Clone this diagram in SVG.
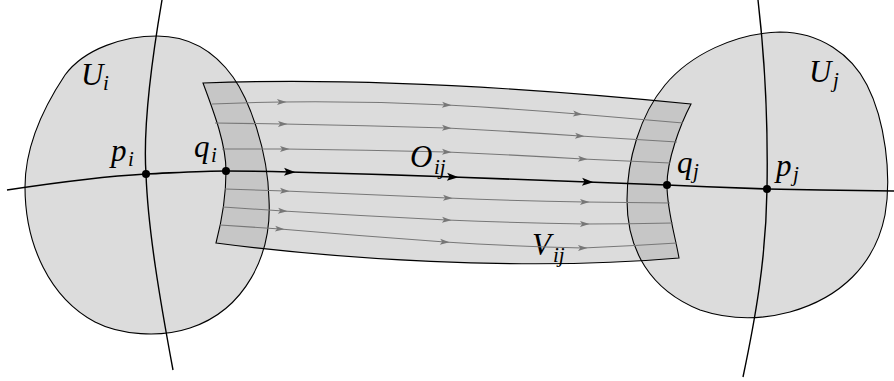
<svg xmlns="http://www.w3.org/2000/svg" width="894" height="381" viewBox="0 0 894 381">
<style>
.region{fill:#dcdcdc;stroke:none}
.overlap{fill:#c6c6c6;stroke:none}
.outline{fill:none;stroke:#000;stroke-width:1.1}
.flow{fill:none;stroke:#777;stroke-width:1.1;marker-mid:url(#arrG)}
.orbit{fill:none;stroke:#000;stroke-width:1.6}
.orbitA{fill:none;stroke:#000;stroke-width:1.6;marker-mid:url(#arrB)}
.transv{fill:none;stroke:#000;stroke-width:1.4}
.dot{fill:#000}
.lbl{font-family:"Liberation Serif","DejaVu Serif",serif;font-style:italic;font-size:31px;fill:#000}
.sub{font-size:21px}
</style>
<defs>
<marker id="arrG" markerUnits="userSpaceOnUse" markerWidth="12" markerHeight="8" viewBox="-6 -4 12 8" refX="0" refY="0" orient="auto" overflow="visible">
<path d="M4.5,0 L-5,-3 L-2.8,0 L-5,3 Z" fill="#777"/>
</marker>
<marker id="arrB" markerUnits="userSpaceOnUse" markerWidth="14" markerHeight="10" viewBox="-7 -5 14 10" refX="0" refY="0" orient="auto" overflow="visible">
<path d="M5.5,0 L-6,-4 L-3.5,0 L-6,4 Z" fill="#000"/>
</marker>
<path id="pUi" d="M157,36 C190,36 215,52 233,77 C249,99.5 268,150 269,200 C272,255 245,310 190,328 C160,338 120,335 95,322 C50,298 25,245 25,187 C25,145 45,105 65,75 C85,48 125,36 157,36 Z"/>
<path id="pUj" d="M780,32 C735,33 690,55 665,85 C640,115 627,160 627,200 C627,250 650,290 700,310 C730,320 760,320 790,312 C840,298 875,265 885,215 C892,175 885,120 867,85 C852,55 820,32 780,32 Z"/>
<path id="pV" d="M203,83 C330,78 500,85 691,104 C680,125 667,160 667,185 C667,210 675,235 679,258 C520,272 330,258 216,243 C222,220 226,195 226,171 C226,145 215,115 203,83 Z"/>
<clipPath id="cUi"><path d="M157,36 C190,36 215,52 233,77 C249,99.5 268,150 269,200 C272,255 245,310 190,328 C160,338 120,335 95,322 C50,298 25,245 25,187 C25,145 45,105 65,75 C85,48 125,36 157,36 Z"/></clipPath>
<clipPath id="cUj"><path d="M780,32 C735,33 690,55 665,85 C640,115 627,160 627,200 C627,250 650,290 700,310 C730,320 760,320 790,312 C840,298 875,265 885,215 C892,175 885,120 867,85 C852,55 820,32 780,32 Z"/></clipPath>
</defs>

<g id="fills">
<use href="#pUi" class="region"/>
<use href="#pUj" class="region"/>
<use href="#pV" class="region"/>
<g clip-path="url(#cUi)"><use href="#pV" class="overlap"/></g>
<g clip-path="url(#cUj)"><use href="#pV" class="overlap"/></g>
</g>

<g id="U_i">
<use href="#pUi" class="outline"/>
<text class="lbl" x="81" y="85">U</text>
<text class="lbl sub" x="103" y="90">i</text>
</g>
<g id="U_j">
<use href="#pUj" class="outline"/>
<text class="lbl" x="809" y="82">U</text>
<text class="lbl sub" x="833" y="87">j</text>
</g>
<g id="V_ij">
<use href="#pV" class="outline"/>
<text class="lbl" x="532" y="255">V</text>
<text class="lbl sub" x="553" y="262">ij</text>
</g>

<g id="connectors">
<path class="flow" d="M212,104 Q247,102.5 282,102 Q365,101 447,105 Q512,108.5 578,114 Q630,118.5 683,123"/>
<path class="flow" d="M215,123 Q249,123.5 283,124 Q365,125.5 447,128 Q515,131.5 580,136 Q628,139 677,142"/>
<path class="flow" d="M222,149 Q253,149 285,149 Q366,150 447,152 Q515,155 583,159 Q627,161 670,163"/>
<path class="flow" d="M225,189 Q255,190 285,191 Q366,194.5 448,198 Q517,201 585,202 Q628,202.5 670,203"/>
<path class="flow" d="M223,207 Q253,209 283,211 Q365,216 447,220 Q516,223 585,224 Q629,224 673,223"/>
<path class="flow" d="M220,225 Q250,227 280,229 Q362,236 445,242 Q514,246.5 583,248 Q630,246 677,243"/>
<path class="transv" d="M162,0 C150,70 143,130 146,174 C148,230 160,300 173,370"/>
<path class="transv" d="M758,0 C765,60 768,130 767,189 C766,260 755,320 743,377"/>
<path class="orbit" d="M7,190 C60,182 110,176 146,174 C180,172.5 205,171 226,171"/>
<path class="orbitA" d="M226,171 Q258,171 290,172 Q372,174 453,177 Q521,179.5 588,182 Q628,183.5 667,185"/>
<path class="orbit" d="M667,185 C700,186.5 735,188 767,189 C810,190 850,190.5 894,191"/>
</g>

<g id="O_ij">
<text class="lbl" x="410" y="167">O</text>
<text class="lbl sub" x="434" y="174">ij</text>
</g>
<g id="p_i">
<circle class="dot" cx="146" cy="174" r="4"/>
<text class="lbl" x="111" y="161">p</text>
<text class="lbl sub" x="128" y="166">i</text>
</g>
<g id="q_i">
<circle class="dot" cx="226" cy="171" r="4"/>
<text class="lbl" x="194" y="157">q</text>
<text class="lbl sub" x="211" y="162">i</text>
</g>
<g id="q_j">
<circle class="dot" cx="667" cy="185" r="4"/>
<text class="lbl" x="677" y="173">q</text>
<text class="lbl sub" x="693" y="178">j</text>
</g>
<g id="p_j">
<circle class="dot" cx="767" cy="189" r="4"/>
<text class="lbl" x="776" y="176">p</text>
<text class="lbl sub" x="793" y="181">j</text>
</g>
</svg>
